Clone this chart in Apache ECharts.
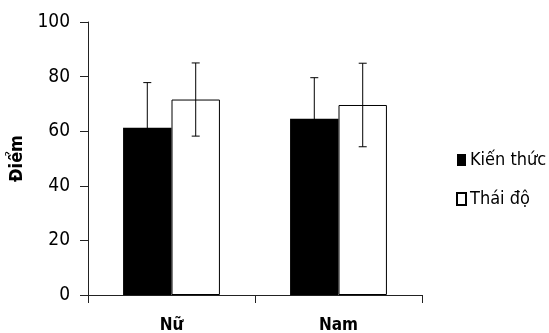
<!DOCTYPE html>
<html>
<head>
<meta charset="utf-8">
<script src="https://cdn.jsdelivr.net/npm/echarts@6/dist/echarts.min.js"></script>
<style>
  html, body { margin: 0; padding: 0; background: #fff; }
  #main { width: 549px; height: 333px; }
</style>
</head>
<body>
<div id="main"></div>
<script>
// categories and series
const categories = ['Nữ', 'Nam']
const seriesNames = ['Kiến thức', 'Thái độ']
const kienThuc = [61.3, 64.6]
const kienThucErr = [16.5, 15]
const thaiDo = [71.6, 69.6]
const thaiDoErr = [13.4, 15.3]

const FONT = '"Liberation Sans Narrow", "DejaVu Sans Condensed", "Liberation Sans", sans-serif'
const BAR_RATIO = 0.29 // width of one bar relative to the category band

const chart = echarts.init(document.getElementById('main'))

// error bars drawn through the axis coords, shifted to the bar of each series
function errorSeries (values, errs, side) {
  return {
    type: 'custom',
    z: 10,
    silent: true,
    data: values.map((v, i) => [i, v - errs[i], v + errs[i]]),
    renderItem: (params, api) => {
      const band = api.size([1, 0])[0]
      const off = side * band * BAR_RATIO / 2
      const lo = api.coord([api.value(0), api.value(1)])
      const hi = api.coord([api.value(0), api.value(2)])
      const x = lo[0] + off
      const cap = 4
      const style = { stroke: '#000', lineWidth: 1 }
      return {
        type: 'group',
        children: [
          { type: 'line', shape: { x1: x, y1: lo[1], x2: x, y2: hi[1] }, style },
          { type: 'line', shape: { x1: x - cap, y1: hi[1], x2: x + cap, y2: hi[1] }, style },
          { type: 'line', shape: { x1: x - cap, y1: lo[1], x2: x + cap, y2: lo[1] }, style }
        ]
      }
    }
  }
}

const option = {
  animation: false,
  textStyle: { fontFamily: FONT, color: '#000' },
  grid: { left: 88, right: 127, top: 22, bottom: 38, outerBoundsMode: 'none' },
  legend: {
    orient: 'vertical',
    left: 451,
    top: 146,
    itemWidth: 9,
    itemHeight: 12,
    itemGap: 21,
    icon: 'rect',
    data: seriesNames,
    textStyle: { fontFamily: FONT, fontSize: 18, color: '#000', padding: [0, 0, 0, -1] }
  },
  xAxis: {
    type: 'category',
    data: categories,
    axisLine: { lineStyle: { color: '#222', width: 1 } },
    axisTick: { show: true, length: 8, lineStyle: { color: '#222' } },
    axisLabel: { fontFamily: FONT, fontSize: 17, fontWeight: 'bold', color: '#000', margin: 22 }
  },
  yAxis: {
    type: 'value',
    min: 0,
    max: 100,
    interval: 20,
    name: 'Điểm',
    nameLocation: 'middle',
    nameRotate: 90,
    nameGap: 59,
    nameTextStyle: { fontFamily: FONT, fontSize: 18, fontWeight: 'bold', color: '#000' },
    splitLine: { show: false },
    axisLine: { show: true, lineStyle: { color: '#222', width: 1 } },
    axisTick: { show: true, length: 8, lineStyle: { color: '#222' } },
    axisLabel: { fontFamily: FONT, fontSize: 19, color: '#000', margin: 18 }
  },
  series: [
    {
      name: seriesNames[0],
      type: 'bar',
      data: kienThuc,
      barWidth: (BAR_RATIO * 100) + '%',
      barGap: '0%',
      itemStyle: { color: '#000', borderColor: '#000', borderWidth: 0 }
    },
    {
      name: seriesNames[1],
      type: 'bar',
      data: thaiDo,
      barWidth: (BAR_RATIO * 100) + '%',
      barGap: '0%',
      itemStyle: { color: '#fff', borderColor: '#000', borderWidth: 1 }
    },
    errorSeries(kienThuc, kienThucErr, -1),
    errorSeries(thaiDo, thaiDoErr, 1)
  ]
}

chart.setOption(option)
</script>
</body>
</html>
